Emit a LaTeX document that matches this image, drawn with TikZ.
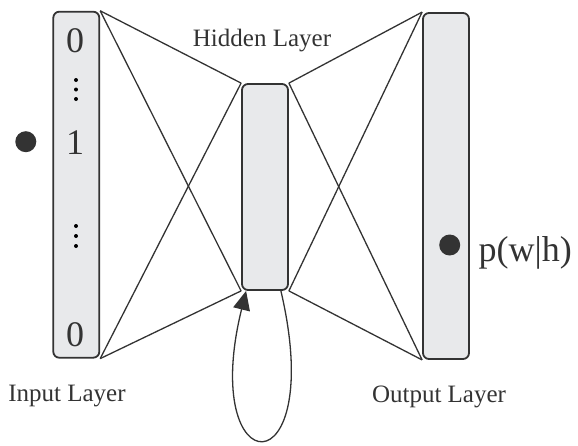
\documentclass[tikz,border=0pt]{standalone}
\usepackage{fontspec}
\setmainfont{Liberation Serif}
\usetikzlibrary{arrows.meta}
\definecolor{ink}{HTML}{333333}
\definecolor{layerfill}{HTML}{E8E9EB}
\begin{document}
\begin{tikzpicture}[x=1pt,y=-1pt,
  layer/.style={draw=ink, line width=1.8pt, fill=layerfill, rounded corners=6pt,
    minimum width=46pt, inner sep=0pt},
  link/.style={draw=ink, line width=1.3pt},
  digit/.style={text=ink, font=\fontsize{36}{36}\selectfont, inner sep=0pt, anchor=base},
  label/.style={text=ink, font=\fontsize{25}{25}\selectfont, inner sep=0pt, anchor=base},
  bigdot/.style={circle, fill=ink, minimum size=21pt, inner sep=0pt},
  smalldot/.style={circle, fill=black, minimum size=4pt, inner sep=0pt}]
\useasboundingbox (0,0) rectangle (578,445);

% the three layers
\node[layer, minimum height=346pt] (in)  at (76.3,184.7) {};
\node[layer, minimum height=206pt] (hid) at (265,187) {};
\node[layer, minimum height=346pt] (out) at (446,186) {};

% full connections between neighbouring layers
\draw[link] (in.north east) -- (hid.north west);
\draw[link] (in.north east) -- (hid.south west);
\draw[link] (in.south east) -- (hid.north west);
\draw[link] (in.south east) -- (hid.south west);
\draw[link] (hid.north east) -- (out.north west);
\draw[link] (hid.north east) -- (out.south west);
\draw[link] (hid.south east) -- (out.north west);
\draw[link] (hid.south east) -- (out.south west);

% recurrent loop on the hidden layer
\coordinate (loopout) at ([xshift=-8pt]hid.south east);
\coordinate (loopin)  at ([xshift=5pt]hid.south west);
\draw[ink, line width=1.3pt, -{Triangle[length=19pt,width=17pt]}]
  (loopout) .. controls (328,492) and (198,486) .. (loopin);

% input vector entries
\node[digit] (x0) at (75,52) {0};
\node[smalldot] (d1) at (76,80) {};
\node[smalldot] (d2) at (76,89.5) {};
\node[smalldot] (d3) at (76,99) {};
\node[digit] (x1) at (75,154) {1};
\node[smalldot] (d4) at (76,226) {};
\node[smalldot] (d5) at (76,236) {};
\node[smalldot] (d6) at (76,246) {};
\node[digit] (xn) at (75,346.5) {0};

% markers
\node[bigdot] (inmark)  at (25.8,141.7) {};
\node[bigdot] (outmark) at (449.7,245) {};
\node[digit, anchor=base west] (prob) at (478.5,261.5) {p(w|h)};

% layer captions
\node[label] (hidlab) at (262,46.7) {Hidden Layer};
\node[label] (inlab)  at (67,401.7) {Input Layer};
\node[label] (outlab) at (439,402.5) {Output Layer};
\end{tikzpicture}
\end{document}
